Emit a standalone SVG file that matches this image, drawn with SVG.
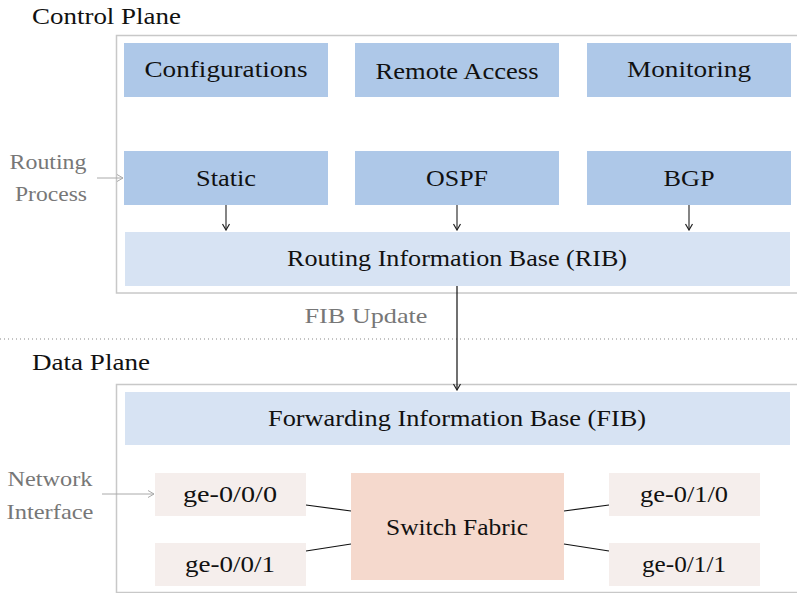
<svg xmlns="http://www.w3.org/2000/svg" width="797" height="593" viewBox="0 0 797 593">
  <defs>
    <marker id="tipDark" viewBox="0 0 10 10" refX="9" refY="5" markerWidth="10" markerHeight="10" markerUnits="userSpaceOnUse" orient="auto">
      <path d="M3,1.5 L9,5 L3,8.5" fill="none" stroke="#222" stroke-width="1.2"/>
    </marker>
    <marker id="tipLight" viewBox="0 0 10 10" refX="9" refY="5" markerWidth="10" markerHeight="10" markerUnits="userSpaceOnUse" orient="auto">
      <path d="M3,1.5 L9,5 L3,8.5" fill="none" stroke="#aaa" stroke-width="1"/>
    </marker>
  </defs>
  <style>
    text { font-family: "Liberation Serif", "DejaVu Serif", serif; fill: #111; }
    .title { font-size: 23px; }
    .lbl { font-size: 24px; text-anchor: middle; }
    .side { font-size: 22px; text-anchor: middle; fill: #777; }
    .frame { fill: none; stroke: #c8c8c8; stroke-width: 1.5; }
    .proto { fill: #aec8e8; }
    .base { fill: #d7e3f3; }
    .port { fill: #f5eeec; }
    .fabric { fill: #f5d9cd; }
    .link { stroke: #111; stroke-width: 1.2; fill: none; }
    .feed { stroke: #333; stroke-width: 1.2; fill: none; marker-end: url(#tipDark); }
    .hint { stroke: #aaa; stroke-width: 1; fill: none; marker-end: url(#tipLight); }
  </style>

  <rect width="797" height="593" fill="#fff"/>

  <!-- plane frames -->
  <g id="control-plane">
    <rect class="frame" x="116.5" y="35.5" width="690" height="257.5"/>
    <text class="title" x="32" y="24" textLength="149" lengthAdjust="spacingAndGlyphs">Control Plane</text>
  </g>
  <g id="data-plane">
    <rect class="frame" x="116.5" y="384.5" width="690" height="208"/>
    <text class="title" x="32" y="370" textLength="118" lengthAdjust="spacingAndGlyphs">Data Plane</text>
  </g>

  <!-- plane divider -->
  <line x1="0" y1="339" x2="797" y2="339" stroke="#888" stroke-width="1.2" stroke-dasharray="1 3"/>

  <!-- side annotations -->
  <g id="routing-process-label">
    <text class="side" x="48" y="169" textLength="77" lengthAdjust="spacingAndGlyphs">Routing</text>
    <text class="side" x="51" y="201" textLength="72" lengthAdjust="spacingAndGlyphs">Process</text>
  </g>
  <g id="network-interface-label">
    <text class="side" x="50" y="486" textLength="85" lengthAdjust="spacingAndGlyphs">Network</text>
    <text class="side" x="50" y="519" textLength="87" lengthAdjust="spacingAndGlyphs">Interface</text>
  </g>

  <!-- control plane nodes -->
  <g id="configurations">
    <rect class="proto" x="124" y="43" width="204" height="54"/>
    <text class="lbl" x="226" y="77" textLength="163" lengthAdjust="spacingAndGlyphs">Configurations</text>
  </g>
  <g id="remote-access">
    <rect class="proto" x="355" y="43" width="204" height="54"/>
    <text class="lbl" x="457" y="79" textLength="163" lengthAdjust="spacingAndGlyphs">Remote Access</text>
  </g>
  <g id="monitoring">
    <rect class="proto" x="587" y="43" width="204" height="54"/>
    <text class="lbl" x="689" y="77" textLength="124" lengthAdjust="spacingAndGlyphs">Monitoring</text>
  </g>
  <g id="static">
    <rect class="proto" x="124" y="151" width="204" height="54"/>
    <text class="lbl" x="226" y="186" textLength="60" lengthAdjust="spacingAndGlyphs">Static</text>
  </g>
  <g id="ospf">
    <rect class="proto" x="355" y="151" width="204" height="54"/>
    <text class="lbl" x="457" y="186" textLength="62" lengthAdjust="spacingAndGlyphs">OSPF</text>
  </g>
  <g id="bgp">
    <rect class="proto" x="587" y="151" width="204" height="54"/>
    <text class="lbl" x="689" y="186" textLength="51" lengthAdjust="spacingAndGlyphs">BGP</text>
  </g>
  <g id="rib">
    <rect class="base" x="125" y="232" width="665" height="54"/>
    <text class="lbl" x="457" y="266" textLength="340" lengthAdjust="spacingAndGlyphs">Routing Information Base (RIB)</text>
  </g>

  <!-- data plane nodes -->
  <g id="fib">
    <rect class="base" x="125" y="392" width="665" height="53"/>
    <text class="lbl" x="457" y="426" textLength="378" lengthAdjust="spacingAndGlyphs">Forwarding Information Base (FIB)</text>
  </g>
  <g id="ge-0-0-0">
    <rect class="port" x="155" y="473" width="151" height="43"/>
    <text class="lbl" x="230" y="502" textLength="94" lengthAdjust="spacingAndGlyphs">ge-0/0/0</text>
  </g>
  <g id="ge-0-0-1">
    <rect class="port" x="155" y="543" width="151" height="43"/>
    <text class="lbl" x="230" y="572" textLength="90" lengthAdjust="spacingAndGlyphs">ge-0/0/1</text>
  </g>
  <g id="switch-fabric">
    <rect class="fabric" x="351" y="473" width="213" height="107"/>
    <text class="lbl" x="457" y="535" textLength="142" lengthAdjust="spacingAndGlyphs">Switch Fabric</text>
  </g>
  <g id="ge-0-1-0">
    <rect class="port" x="609" y="473" width="151" height="43"/>
    <text class="lbl" x="684" y="502" textLength="88" lengthAdjust="spacingAndGlyphs">ge-0/1/0</text>
  </g>
  <g id="ge-0-1-1">
    <rect class="port" x="609" y="543" width="151" height="43"/>
    <text class="lbl" x="684" y="572" textLength="84" lengthAdjust="spacingAndGlyphs">ge-0/1/1</text>
  </g>

  <!-- connectors -->
  <g id="connectors">
    <line class="hint" x1="97" y1="178" x2="123" y2="178"/>
    <line class="hint" x1="102" y1="494" x2="154" y2="494"/>

    <line class="feed" x1="226" y1="205" x2="226" y2="230"/>
    <line class="feed" x1="457" y1="205" x2="457" y2="230"/>
    <line class="feed" x1="689" y1="205" x2="689" y2="230"/>

    <line x1="457" y1="286" x2="457" y2="390" stroke="#111" stroke-width="1.2" marker-end="url(#tipDark)"/>
    <text x="366" y="323" font-size="22" text-anchor="middle" style="fill:#777" textLength="123" lengthAdjust="spacingAndGlyphs">FIB Update</text>

    <line class="link" x1="306" y1="505" x2="351" y2="511"/>
    <line class="link" x1="306" y1="551" x2="351" y2="544"/>
    <line class="link" x1="564" y1="511" x2="609" y2="505"/>
    <line class="link" x1="564" y1="544" x2="609" y2="551"/>
  </g>
</svg>
